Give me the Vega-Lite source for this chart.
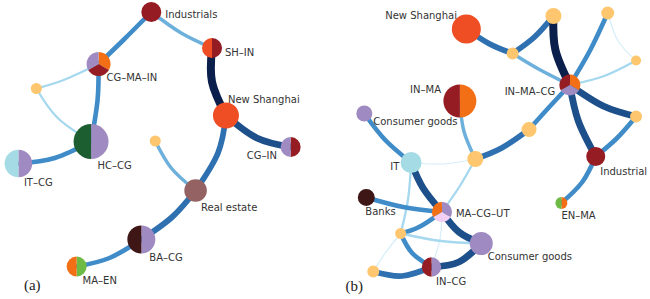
{
  "$schema": "https://vega.github.io/schema/vega-lite/v6.json",
  "width": 650,
  "height": 299,
  "autosize": {"type": "fit", "contains": "padding"},
  "padding": 0,
  "background": "white",
  "config": {"view": {"stroke": null}},
  "datasets": {
    "edges": [
      {"e":1,"i":0,"x":152,"y":12,"w":3},{"e":1,"i":1,"x":182,"y":33,"w":3},{"e":1,"i":2,"x":213,"y":48,"w":3},
      {"e":2,"i":0,"x":152,"y":12,"w":4},{"e":2,"i":1,"x":124,"y":40,"w":4},{"e":2,"i":2,"x":99,"y":64,"w":4},
      {"e":3,"i":0,"x":213,"y":48,"w":7},{"e":3,"i":1,"x":213,"y":82,"w":7},{"e":3,"i":2,"x":227,"y":115.5,"w":7},
      {"e":4,"i":0,"x":227,"y":115.5,"w":6},{"e":4,"i":1,"x":258,"y":138,"w":6},{"e":4,"i":2,"x":292,"y":147,"w":6},
      {"e":5,"i":0,"x":227,"y":115.5,"w":5},{"e":5,"i":1,"x":219,"y":153,"w":5},{"e":5,"i":2,"x":196.5,"y":190.5,"w":5},
      {"e":6,"i":0,"x":196.5,"y":190.5,"w":5},{"e":6,"i":1,"x":173,"y":217,"w":5},{"e":6,"i":2,"x":142,"y":239.5,"w":5},
      {"e":7,"i":0,"x":156,"y":141,"w":3},{"e":7,"i":1,"x":172,"y":168,"w":3},{"e":7,"i":2,"x":196.5,"y":190.5,"w":3},
      {"e":8,"i":0,"x":99,"y":64,"w":4},{"e":8,"i":1,"x":98,"y":100,"w":4},{"e":8,"i":2,"x":91.5,"y":141.5,"w":4},
      {"e":9,"i":0,"x":99,"y":64,"w":2},{"e":9,"i":1,"x":64,"y":80,"w":2},{"e":9,"i":2,"x":36.5,"y":88.5,"w":2},
      {"e":10,"i":0,"x":36.5,"y":88.5,"w":2},{"e":10,"i":1,"x":58,"y":118,"w":2},{"e":10,"i":2,"x":91.5,"y":141.5,"w":2},
      {"e":11,"i":0,"x":91.5,"y":141.5,"w":4},{"e":11,"i":1,"x":55,"y":158,"w":4},{"e":11,"i":2,"x":18.5,"y":163.5,"w":4},
      {"e":12,"i":0,"x":142,"y":239.5,"w":4},{"e":12,"i":1,"x":110,"y":258,"w":4},{"e":12,"i":2,"x":77,"y":266.5,"w":4},
      {"e":13,"i":0,"x":468.5,"y":29,"w":5},{"e":13,"i":1,"x":492,"y":44,"w":5},{"e":13,"i":2,"x":515,"y":53.5,"w":5},
      {"e":14,"i":0,"x":515,"y":53.5,"w":5},{"e":14,"i":1,"x":537,"y":37,"w":5},{"e":14,"i":2,"x":556,"y":16,"w":5},
      {"e":15,"i":0,"x":515,"y":53.5,"w":3},{"e":15,"i":1,"x":541,"y":69,"w":3},{"e":15,"i":2,"x":572.5,"y":85,"w":3},
      {"e":16,"i":0,"x":556,"y":16,"w":7},{"e":16,"i":1,"x":558,"y":50,"w":7},{"e":16,"i":2,"x":572.5,"y":85,"w":7},
      {"e":17,"i":0,"x":610.5,"y":13,"w":4},{"e":17,"i":1,"x":593,"y":50,"w":4},{"e":17,"i":2,"x":572.5,"y":85,"w":4},
      {"e":18,"i":0,"x":610.5,"y":13,"w":1},{"e":18,"i":1,"x":621,"y":41,"w":1},{"e":18,"i":2,"x":639,"y":60.5,"w":1},
      {"e":19,"i":0,"x":639,"y":60.5,"w":2},{"e":19,"i":1,"x":607,"y":76,"w":2},{"e":19,"i":2,"x":572.5,"y":85,"w":2},
      {"e":20,"i":0,"x":572.5,"y":85,"w":6},{"e":20,"i":1,"x":606,"y":106,"w":6},{"e":20,"i":2,"x":639,"y":116.5,"w":6},
      {"e":21,"i":0,"x":572.5,"y":85,"w":6},{"e":21,"i":1,"x":581,"y":121,"w":6},{"e":21,"i":2,"x":598.5,"y":156.5,"w":6},
      {"e":22,"i":0,"x":639,"y":116.5,"w":4},{"e":22,"i":1,"x":620,"y":138,"w":4},{"e":22,"i":2,"x":598.5,"y":156.5,"w":4},
      {"e":23,"i":0,"x":572.5,"y":85,"w":4},{"e":23,"i":1,"x":550,"y":109,"w":4},{"e":23,"i":2,"x":531.5,"y":129.5,"w":4},
      {"e":24,"i":0,"x":531.5,"y":129.5,"w":5},{"e":24,"i":1,"x":504,"y":148,"w":5},{"e":24,"i":2,"x":477.5,"y":159,"w":5},
      {"e":25,"i":0,"x":462,"y":101,"w":3},{"e":25,"i":1,"x":466,"y":131,"w":3},{"e":25,"i":2,"x":477.5,"y":159,"w":3},
      {"e":26,"i":0,"x":366,"y":113.5,"w":4},{"e":26,"i":1,"x":387,"y":140,"w":4},{"e":26,"i":2,"x":413,"y":162.5,"w":4},
      {"e":27,"i":0,"x":413,"y":162.5,"w":1},{"e":27,"i":1,"x":445,"y":164,"w":1},{"e":27,"i":2,"x":477.5,"y":159,"w":1},
      {"e":28,"i":0,"x":413,"y":162.5,"w":6},{"e":28,"i":1,"x":425,"y":188,"w":6},{"e":28,"i":2,"x":444,"y":212,"w":6},
      {"e":29,"i":0,"x":413,"y":162.5,"w":2},{"e":29,"i":1,"x":410,"y":199,"w":2},{"e":29,"i":2,"x":402.5,"y":233.5,"w":2},
      {"e":30,"i":0,"x":477.5,"y":159,"w":2},{"e":30,"i":1,"x":462,"y":186,"w":2},{"e":30,"i":2,"x":444,"y":212,"w":2},
      {"e":31,"i":0,"x":368,"y":197.5,"w":4},{"e":31,"i":1,"x":405,"y":207,"w":4},{"e":31,"i":2,"x":444,"y":212,"w":4},
      {"e":32,"i":0,"x":444,"y":212,"w":6},{"e":32,"i":1,"x":461,"y":232,"w":6},{"e":32,"i":2,"x":483.5,"y":243.5,"w":6},
      {"e":33,"i":0,"x":444,"y":212,"w":4},{"e":33,"i":1,"x":421,"y":227,"w":4},{"e":33,"i":2,"x":402.5,"y":233.5,"w":4},
      {"e":34,"i":0,"x":444,"y":212,"w":1},{"e":34,"i":1,"x":442,"y":239,"w":1},{"e":34,"i":2,"x":433.5,"y":267,"w":1},
      {"e":35,"i":0,"x":402.5,"y":233.5,"w":2},{"e":35,"i":1,"x":443,"y":241,"w":2},{"e":35,"i":2,"x":483.5,"y":243.5,"w":2},
      {"e":36,"i":0,"x":402.5,"y":233.5,"w":4},{"e":36,"i":1,"x":414,"y":253,"w":4},{"e":36,"i":2,"x":433.5,"y":267,"w":4},
      {"e":37,"i":0,"x":402.5,"y":233.5,"w":1},{"e":37,"i":1,"x":387,"y":253,"w":1},{"e":37,"i":2,"x":375,"y":271.5,"w":1},
      {"e":38,"i":0,"x":433.5,"y":267,"w":6},{"e":38,"i":1,"x":461,"y":262,"w":6},{"e":38,"i":2,"x":483.5,"y":243.5,"w":6},
      {"e":39,"i":0,"x":375,"y":271.5,"w":5},{"e":39,"i":1,"x":404,"y":276,"w":5},{"e":39,"i":2,"x":433.5,"y":267,"w":5},
      {"e":40,"i":0,"x":598.5,"y":156.5,"w":4},{"e":40,"i":1,"x":585,"y":182,"w":4},{"e":40,"i":2,"x":564,"y":203,"w":4}
    ],
    "slices": [
      {"n":"Ind","x":152,"y":12,"size":10,"cat":"IN","v":1,"k":1},
      {"n":"SHIN","x":213,"y":48,"size":10,"cat":"IN","v":1,"k":1},
      {"n":"SHIN","x":213,"y":48,"size":10,"cat":"NS","v":1,"k":2},
      {"n":"CGMAIN","x":99,"y":64,"size":12,"cat":"MA","v":1,"k":1},
      {"n":"CGMAIN","x":99,"y":64,"size":12,"cat":"IN","v":1,"k":2},
      {"n":"CGMAIN","x":99,"y":64,"size":12,"cat":"CG","v":1,"k":3},
      {"n":"ya1","x":36.5,"y":88.5,"size":5.5,"cat":"X","v":1,"k":1},
      {"n":"HCCG","x":91.5,"y":141.5,"size":17.5,"cat":"CG","v":1,"k":1},
      {"n":"HCCG","x":91.5,"y":141.5,"size":17.5,"cat":"HC","v":1,"k":2},
      {"n":"ya2","x":156,"y":141,"size":5.5,"cat":"X","v":1,"k":1},
      {"n":"ITCG","x":18.5,"y":163.5,"size":13.8,"cat":"CG","v":1,"k":1},
      {"n":"ITCG","x":18.5,"y":163.5,"size":13.8,"cat":"IT","v":1,"k":2},
      {"n":"NSa","x":227,"y":115.5,"size":13,"cat":"NS","v":1,"k":1},
      {"n":"CGIN","x":292,"y":147,"size":10,"cat":"IN","v":1,"k":1},
      {"n":"CGIN","x":292,"y":147,"size":10,"cat":"CG","v":1,"k":2},
      {"n":"RE","x":196.5,"y":190.5,"size":11.3,"cat":"RE","v":1,"k":1},
      {"n":"BACG","x":142,"y":239.5,"size":14,"cat":"CG","v":1,"k":1},
      {"n":"BACG","x":142,"y":239.5,"size":14,"cat":"BA","v":1,"k":2},
      {"n":"MAEN","x":77,"y":266.5,"size":10,"cat":"EN","v":1,"k":1},
      {"n":"MAEN","x":77,"y":266.5,"size":10,"cat":"MA","v":1,"k":2},
      {"n":"NSb","x":468.5,"y":29,"size":14.5,"cat":"NS","v":1,"k":1},
      {"n":"INMA","x":462,"y":101,"size":16.5,"cat":"MA","v":1,"k":1},
      {"n":"INMA","x":462,"y":101,"size":16.5,"cat":"IN","v":1,"k":2},
      {"n":"CGt","x":366,"y":113.5,"size":8,"cat":"CG","v":1,"k":1},
      {"n":"INMACG","x":572.5,"y":85,"size":10.5,"cat":"MA","v":1,"k":1},
      {"n":"INMACG","x":572.5,"y":85,"size":10.5,"cat":"CG","v":1,"k":2},
      {"n":"INMACG","x":572.5,"y":85,"size":10.5,"cat":"IN","v":1,"k":3},
      {"n":"yb1","x":556,"y":16,"size":8,"cat":"X","v":1,"k":1},
      {"n":"yb2","x":610.5,"y":13,"size":6.5,"cat":"X","v":1,"k":1},
      {"n":"yb3","x":515,"y":53.5,"size":6,"cat":"X","v":1,"k":1},
      {"n":"yb4","x":639,"y":60.5,"size":5,"cat":"X","v":1,"k":1},
      {"n":"yb5","x":639,"y":116.5,"size":6,"cat":"X","v":1,"k":1},
      {"n":"yb6","x":531.5,"y":129.5,"size":7.5,"cat":"X","v":1,"k":1},
      {"n":"IndB","x":598.5,"y":156.5,"size":9.5,"cat":"IN","v":1,"k":1},
      {"n":"ENMA","x":564,"y":203,"size":6,"cat":"MA","v":1,"k":1},
      {"n":"ENMA","x":564,"y":203,"size":6,"cat":"EN","v":1,"k":2},
      {"n":"IT","x":413,"y":162.5,"size":10.5,"cat":"IT","v":1,"k":1},
      {"n":"yb7","x":477.5,"y":159,"size":8,"cat":"X","v":1,"k":1},
      {"n":"Banks","x":368,"y":197.5,"size":8.5,"cat":"BA","v":1,"k":1},
      {"n":"MCU","x":444,"y":212,"size":10,"cat":"CG","v":1,"k":1},
      {"n":"MCU","x":444,"y":212,"size":10,"cat":"UT","v":1,"k":2},
      {"n":"MCU","x":444,"y":212,"size":10,"cat":"MA","v":1,"k":3},
      {"n":"yb8","x":402.5,"y":233.5,"size":5.5,"cat":"X","v":1,"k":1},
      {"n":"CGb","x":483.5,"y":243.5,"size":11.5,"cat":"CG","v":1,"k":1},
      {"n":"INCG","x":433.5,"y":267,"size":9.7,"cat":"CG","v":1,"k":1},
      {"n":"INCG","x":433.5,"y":267,"size":9.7,"cat":"IN","v":1,"k":2},
      {"n":"yb9","x":375,"y":271.5,"size":6,"cat":"X","v":1,"k":1}
    ],
    "labels": [
      {"t":"Industrials","x":166,"y":15},
      {"t":"SH–IN","x":226,"y":53},
      {"t":"CG–MA–IN","x":107,"y":78},
      {"t":"HC–CG","x":98,"y":166},
      {"t":"IT–CG","x":24,"y":183},
      {"t":"New Shanghai","x":229,"y":100},
      {"t":"CG–IN","x":248,"y":156},
      {"t":"Real estate","x":202,"y":208},
      {"t":"BA–CG","x":150,"y":258},
      {"t":"MA–EN","x":83,"y":281},
      {"t":"New Shanghai","x":387,"y":16},
      {"t":"IN–MA","x":412,"y":90},
      {"t":"Consumer goods","x":375,"y":122},
      {"t":"IN–MA–CG","x":507,"y":92},
      {"t":"IT","x":392,"y":167},
      {"t":"Industrial","x":603,"y":172},
      {"t":"EN–MA","x":564,"y":216},
      {"t":"Banks","x":367,"y":212},
      {"t":"MA–CG–UT","x":458,"y":214},
      {"t":"Consumer goods","x":490,"y":257},
      {"t":"IN–CG","x":438,"y":282}
    ],
    "panels": [
      {"t":"(a)","x":24,"y":285},
      {"t":"(b)","x":347,"y":286}
    ]
  },
  "encoding": {
    "x": {"field": "x", "type": "quantitative", "scale": {"domain": [0, 650], "nice": false, "zero": false}, "axis": null},
    "y": {"field": "y", "type": "quantitative", "scale": {"domain": [0, 299], "nice": false, "zero": false, "reverse": true}, "axis": null}
  },
  "layer": [
    {
      "data": {"name": "edges"},
      "mark": {"type": "line", "interpolate": "natural", "strokeCap": "round"},
      "encoding": {
        "detail": {"field": "e", "type": "nominal"},
        "order": {"field": "i", "type": "quantitative"},
        "stroke": {"field": "w", "type": "ordinal", "scale": {"domain": [1, 2, 3, 4, 5, 6, 7], "range": ["#d6eefa", "#a6d8ef", "#6db0dc", "#3f8cc8", "#2e70b0", "#1d4f8a", "#0b1f4d"]}, "legend": null},
        "strokeWidth": {"field": "w", "type": "quantitative", "scale": {"domain": [1, 7], "range": [1.2, 8]}, "legend": null}
      }
    },
    {
      "data": {"name": "slices"},
      "transform": [
        {"stack": "v", "groupby": ["n"], "sort": [{"field": "k", "order": "ascending"}], "offset": "normalize", "as": ["t0", "t1"]}
      ],
      "mark": {"type": "arc"},
      "encoding": {
        "theta": {"field": "t0", "type": "quantitative", "scale": {"domain": [0, 1], "range": [0, 6.283185307]}, "stack": null},
        "theta2": {"field": "t1"},
        "radius": {"field": "size", "type": "quantitative", "scale": {"type": "linear", "domain": [0, 20], "range": [0, 20], "zero": true}},
        "fill": {"field": "cat", "type": "nominal", "scale": {"domain": ["IN", "NS", "CG", "HC", "IT", "BA", "MA", "EN", "RE", "UT", "X"], "range": ["#951c22", "#ef4d23", "#9f8bc1", "#1c5e30", "#a5dbe4", "#3e1616", "#f36f15", "#6dba45", "#946262", "#f2cef2", "#fec66e"]}, "legend": null}
      }
    },
    {
      "data": {"name": "labels"},
      "mark": {"type": "text", "align": "left", "baseline": "middle", "font": "DejaVu Sans", "fontSize": 10, "color": "#333333"},
      "encoding": {"text": {"field": "t", "type": "nominal"}}
    },
    {
      "data": {"name": "panels"},
      "mark": {"type": "text", "align": "left", "baseline": "middle", "font": "Liberation Serif", "fontSize": 15, "color": "#222222"},
      "encoding": {"text": {"field": "t", "type": "nominal"}}
    }
  ]
}
